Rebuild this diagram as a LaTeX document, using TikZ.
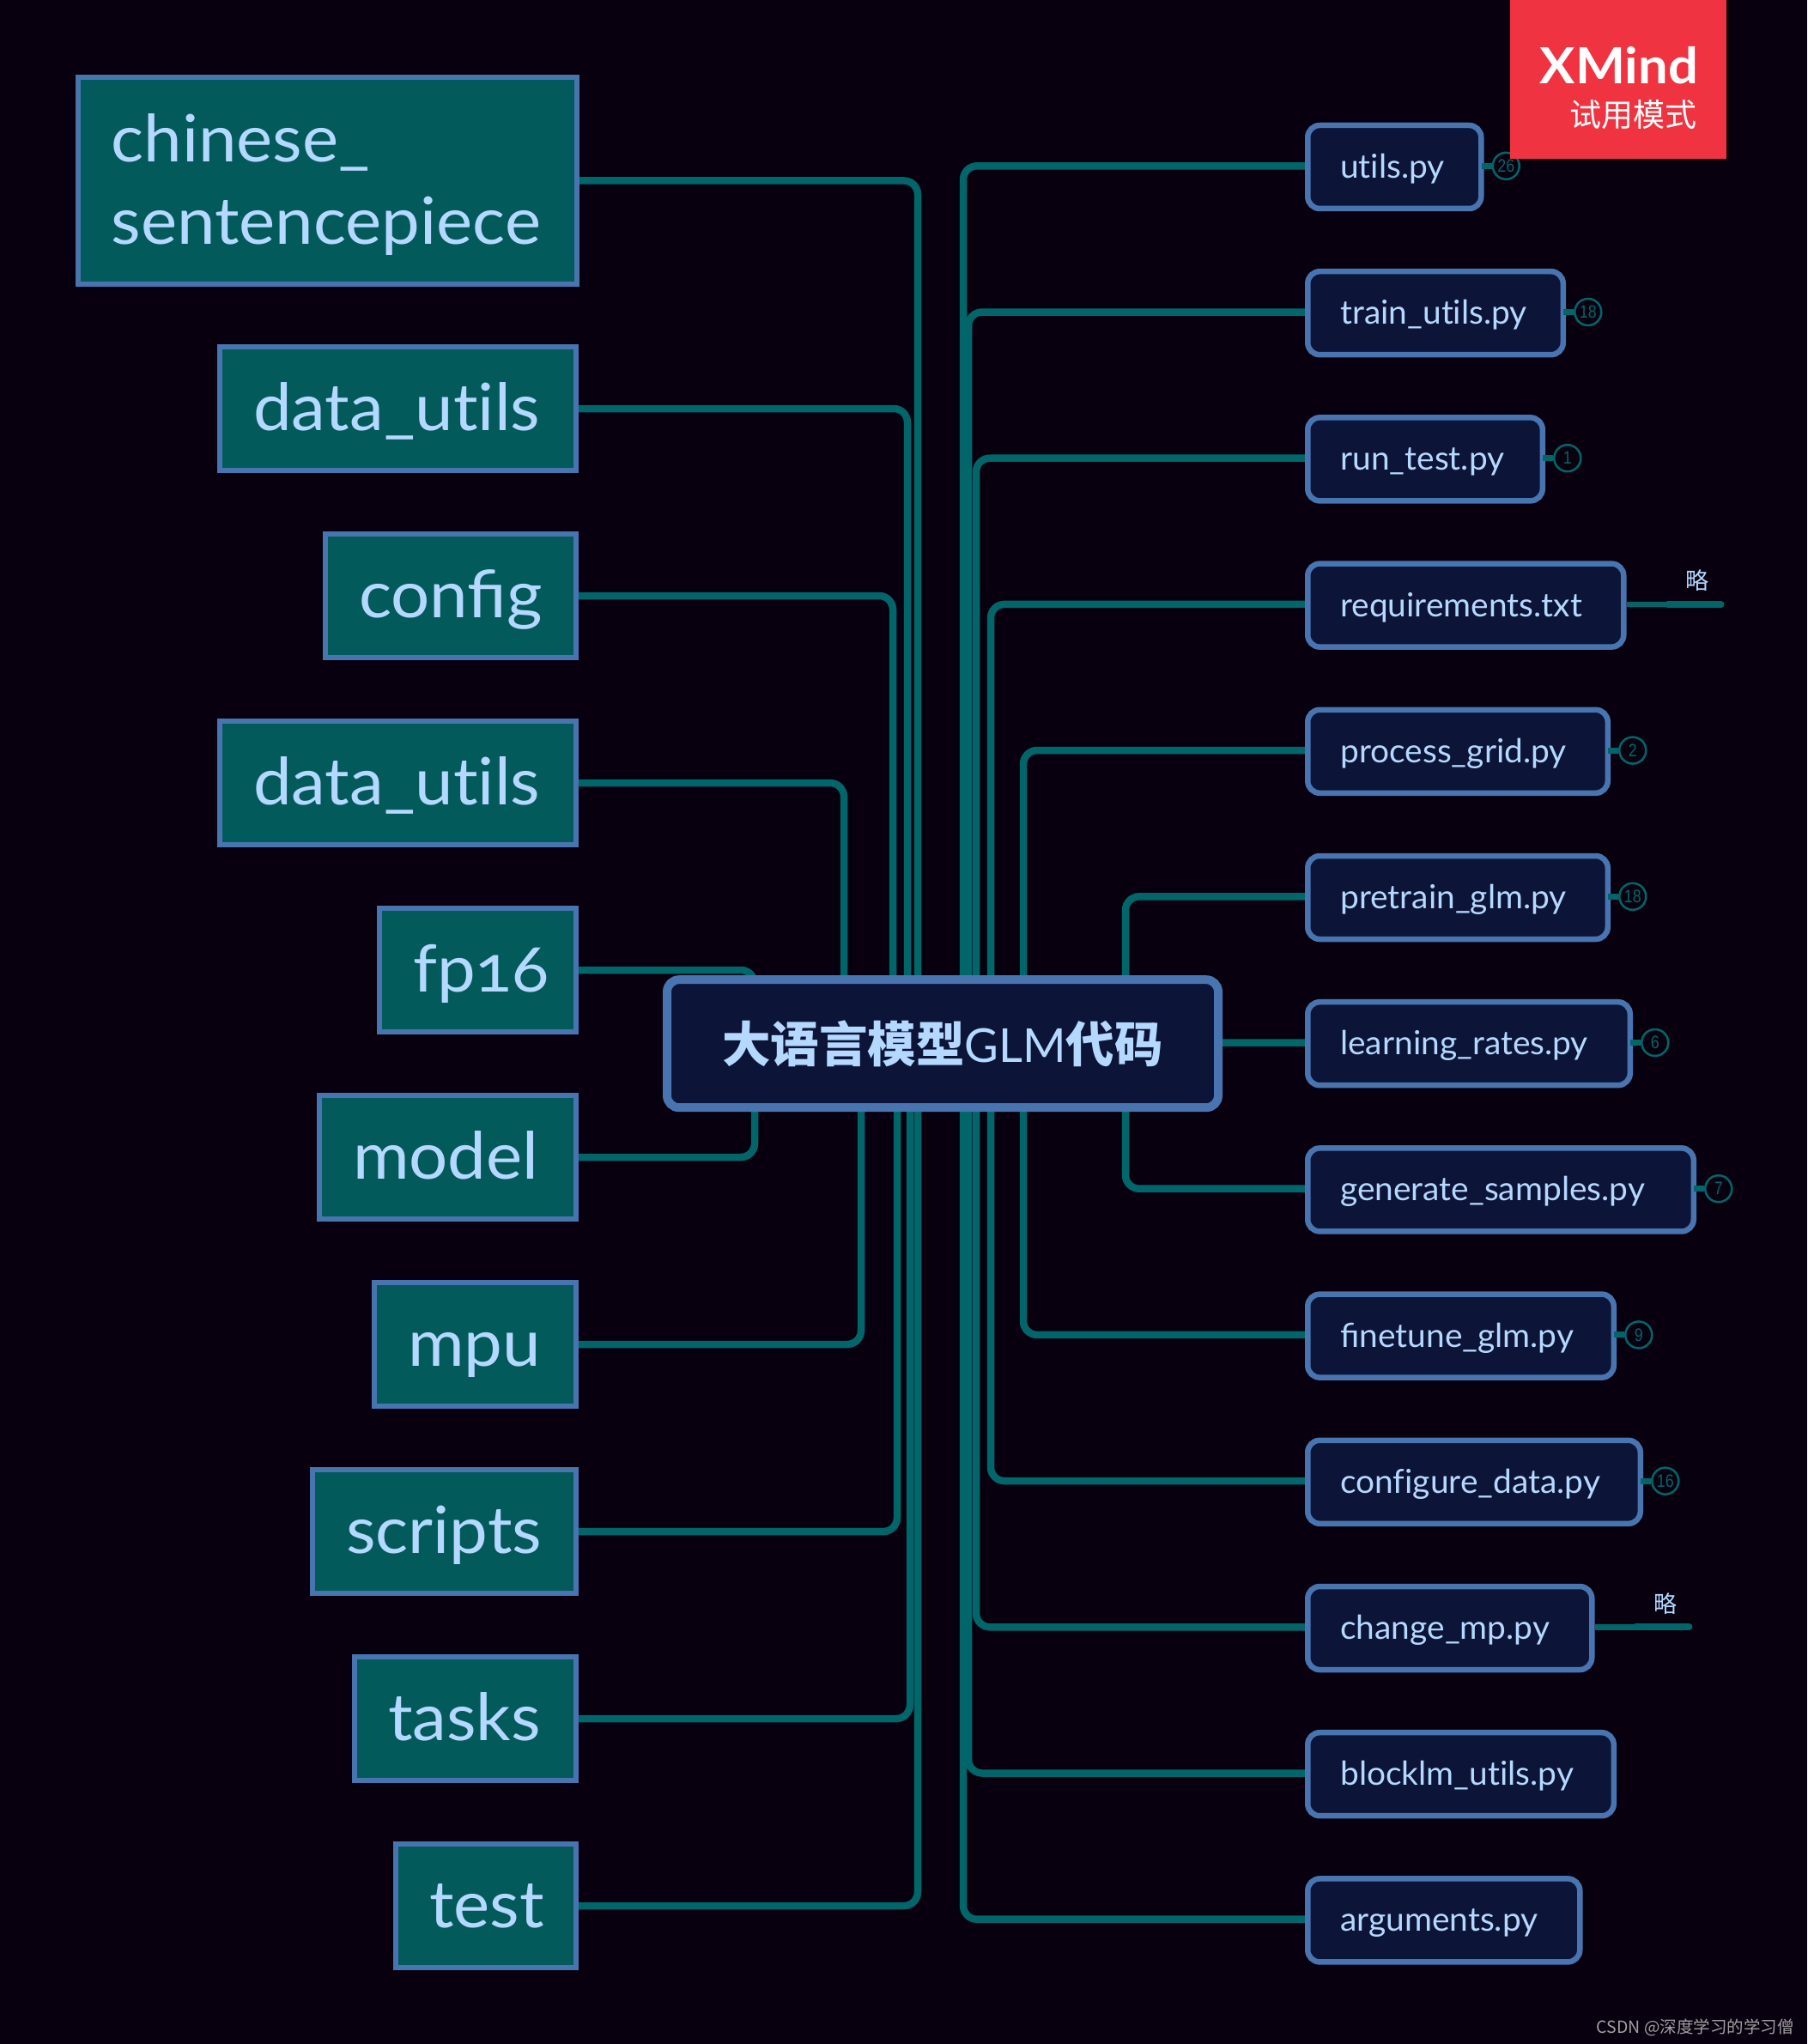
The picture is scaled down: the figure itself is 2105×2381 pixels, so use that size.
\documentclass[tikz,border=0pt]{standalone}
\usepackage{fontspec}
\usetikzlibrary{backgrounds}
\setmainfont[Ligatures=NoCommon]{Lato}
\newfontfamily\cjk{Noto Sans CJK SC}
\newfontfamily\bigf[FakeStretch=1.05,Ligatures=NoCommon,Numbers=OldStyle]{Lato}
\newfontfamily\smallf[FakeStretch=1.01,Ligatures=NoCommon]{Lato}
\newfontfamily\xmf[FakeStretch=1.06,Ligatures=NoCommon]{Lato}
\newfontfamily\numf[FakeStretch=0.85]{Liberation Sans}
\newcommand{\lig}[1]{{\addfontfeature{Ligatures=Common}#1}}
\definecolor{bgc}{HTML}{08000F}
\definecolor{wirec}{HTML}{00666A}
\definecolor{leftfill}{HTML}{025A5B}
\definecolor{rightfill}{HTML}{0C1437}
\definecolor{edgec}{HTML}{4874B0}
\definecolor{textc}{HTML}{B5D8FF}
\definecolor{redc}{HTML}{EF3340}
\definecolor{markc}{HTML}{A0A0A0}
\tikzset{
  x=1pt,y=-1pt,
  wire/.style={draw=wirec,line width=8.5pt,rounded corners=16pt},
  stub/.style={draw=wirec,line width=7pt},
  foldthin/.style={draw=wirec,line width=6.5pt},
  foldthick/.style={draw=wirec,line width=8pt,line cap=round},
  leftbox/.style={draw=edgec,fill=leftfill,line width=6pt,rectangle,inner xsep=0pt,inner ysep=0pt,
    align=left,text=textc,font=\bigf\fontsize{76}{96}\selectfont,text height=63pt,text depth=12pt},
  rightbox/.style={draw=edgec,fill=rightfill,line width=6.5pt,rectangle,rounded corners=14pt,inner xsep=0pt,inner ysep=0pt,
    align=left,minimum height=97pt,text=textc,font=\smallf\fontsize{38.5}{46}\selectfont,text height=34pt,text depth=8pt},
  hubbox/.style={draw=edgec,fill=rightfill,line width=10pt,rectangle,rounded corners=14pt,inner sep=0pt,
    text=textc},
  count/.style={circle,draw=wirec,fill=bgc,line width=2.5pt,minimum size=31pt,inner sep=0pt,text=wirec,
    font=\numf\fontsize{21}{21}\selectfont},
  fold/.style={text=textc,inner sep=0pt,font=\cjk\fontsize{27}{27}\selectfont},
}
\newcommand{\lbox}[4]{%
  \pgfmathsetmacro\bcx{(#2+674)/2}%
  \pgfmathsetmacro\bmw{674-#2-6}%
  \pgfmathsetmacro\btw{\bmw-78}%
  \node[leftbox,minimum width=\bmw pt,minimum height=144pt,text width=\btw pt] (#1) at (\bcx,#3) {\mbox{#4}};}
\newcommand{\rbox}[4]{%
  \pgfmathsetmacro\bcx{(1520+#2)/2}%
  \pgfmathsetmacro\bmw{#2-1520-6.5}%
  \pgfmathsetmacro\btw{\bmw-76}%
  \pgfmathsetmacro\bcy{194.5+170.2*#3}%
  \node[rightbox,minimum width=\bmw pt,text width=\btw pt] (#1) at (\bcx,\bcy) {\mbox{#4}};}
\newcommand{\cnt}[3]{%
  \node[count,anchor=west] (#2) at ([xshift=9pt,yshift=1.2pt]#1.east) {#3};
  \draw[stub] ([xshift=-3pt,yshift=1.2pt]#1.east) -- (#2.west);}
\newcommand{\lwire}[3]{\begin{pgfonlayer}{background}\draw[wire] (#1.east) -| (#2,0 |- hub.#3);\end{pgfonlayer}}
\newcommand{\rwire}[3]{\begin{pgfonlayer}{background}\draw[wire] (#2,0 |- hub.#3) |- ([yshift=1.2pt]#1.west);\end{pgfonlayer}}
\begin{document}
\begin{tikzpicture}
\useasboundingbox (0,0) rectangle (2105,2381);
\begin{pgfonlayer}{background}
\fill[bgc] (0,0) rectangle (2105,2381);
\end{pgfonlayer}
\node[text=markc,inner sep=0pt,anchor=east,font=\cjk\fontsize{19.5}{20}\selectfont] (csdn) at (2090,2361.5) {CSDN @深度学习的学习僧};
% hub
\node[hubbox,minimum width=642pt,minimum height=149pt] (hub) at (1098,1215.7) {\fontsize{54.5}{54}\selectfont{\cjk\bfseries\fontsize{56.5}{56}\selectfont 大语言模型}GLM{\cjk\bfseries\fontsize{56.5}{56}\selectfont 代码}};
% left
\node[leftbox,minimum width=581pt,minimum height=241pt,text width=503pt,text height=,text depth=] (l0) at (381,210.5)
  {\rule{0pt}{66pt}\mbox{chinese\_}\\\mbox{sentencepiece}};
\lbox{l1}{253}{476}{data\_utils}
\lbox{l2}{376}{694}{\lig{config}}
\lbox{l3}{253}{912}{data\_utils}
\lbox{l4}{439}{1130}{fp16}
\lbox{l5}{369}{1348}{model}
\lbox{l6}{433}{1566}{mpu}
\lbox{l7}{361}{1784}{scripts}
\lbox{l8}{410}{2002}{tasks}
\lbox{l9}{458}{2220}{test}
% right
\rbox{r0}{1728.5}{0}{utils.py}
\rbox{r1}{1824}{1}{train\_utils.py}
\rbox{r2}{1800}{2}{run\_test.py}
\rbox{r3}{1894.5}{3}{requirements.txt}
\rbox{r4}{1876}{4}{process\_grid.py}
\rbox{r5}{1876}{5}{pretrain\_glm.py}
\rbox{r6}{1902}{6}{learning\_rates.py}
\rbox{r7}{1976}{7}{generate\_samples.py}
\rbox{r8}{1883}{8}{\lig{finetune}\_glm.py}
\rbox{r9}{1914}{9}{configure\_data.py}
\rbox{r10}{1857.5}{10}{change\_mp.py}
\rbox{r11}{1883}{11}{blocklm\_utils.py}
\rbox{r12}{1843.5}{12}{arguments.py}
% left connectors
\lwire{l0}{1069}{north}
\lwire{l1}{1057}{north}
\lwire{l2}{1040}{north}
\lwire{l3}{983}{north}
\lwire{l4}{879}{north}
\lwire{l5}{879}{south}
\lwire{l6}{1003}{south}
\lwire{l7}{1045}{south}
\lwire{l8}{1060}{south}
\lwire{l9}{1069}{south}
% right connectors
\rwire{r0}{1122}{north}
\rwire{r1}{1128}{north}
\rwire{r2}{1137}{north}
\rwire{r3}{1154}{north}
\rwire{r4}{1192}{north}
\rwire{r5}{1311}{north}
\begin{pgfonlayer}{background}\draw[wire] ([yshift=1.2pt]hub.east) -- ([yshift=1.2pt]r6.west);\end{pgfonlayer}
\rwire{r7}{1311}{south}
\rwire{r8}{1192}{south}
\rwire{r9}{1154}{south}
\rwire{r10}{1137}{south}
\rwire{r11}{1128}{south}
\rwire{r12}{1122}{south}
% counters
\cnt{r0}{c0}{26}
\cnt{r1}{c1}{18}
\cnt{r2}{c2}{1}
\cnt{r4}{c4}{2}
\cnt{r5}{c5}{18}
\cnt{r6}{c6}{6}
\cnt{r7}{c7}{7}
\cnt{r8}{c8}{9}
\cnt{r9}{c9}{16}
% folded branches
\coordinate (f3a) at ([xshift=48pt,yshift=1.2pt]r3.east);
\coordinate (f3b) at ([xshift=110pt,yshift=1.2pt]r3.east);
\draw[foldthin] ([yshift=1.2pt]r3.east) -- (f3a);
\draw[foldthick] (f3a) -- (f3b);
\node[fold] (n3) at ([xshift=82pt,yshift=28.5pt]r3.east) {略};
\coordinate (f10a) at ([xshift=48pt,yshift=1.2pt]r10.east);
\coordinate (f10b) at ([xshift=110pt,yshift=1.2pt]r10.east);
\draw[foldthin] ([yshift=1.2pt]r10.east) -- (f10a);
\draw[foldthick] (f10a) -- (f10b);
\node[fold] (n10) at ([xshift=82pt,yshift=28.5pt]r10.east) {略};
% trial badge, above the first counter
\node[fill=redc,minimum width=252pt,minimum height=185pt,inner sep=0pt] (badge) at (1885,92.5) {};
\node[text=white,inner sep=0pt,anchor=base east,font=\xmf\bfseries\fontsize{58}{58}\selectfont] (xm) at (1978,98) {XMind};
\node[text=white,inner sep=0pt,anchor=east,font=\cjk\fontsize{37}{37}\selectfont] (xmz) at (1977,134) {试用模式};
\end{tikzpicture}
\end{document}
